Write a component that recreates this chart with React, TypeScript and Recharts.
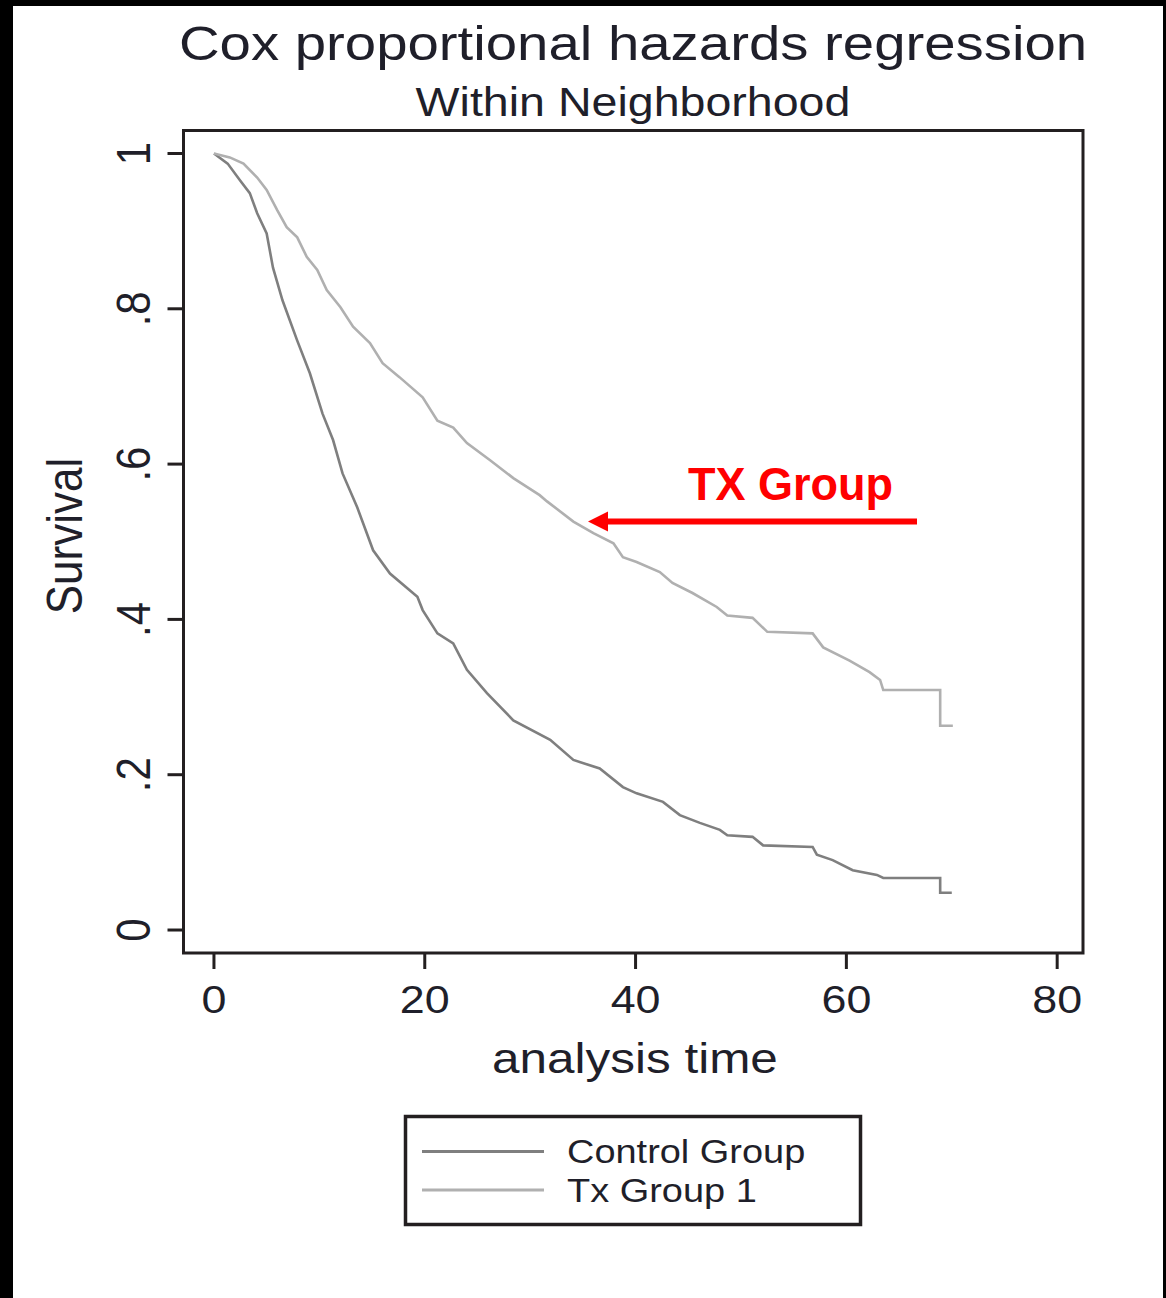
import React from 'react'
import { LineChart, Line, XAxis, YAxis, ReferenceArea } from 'recharts'

// survival curves (analysis time, survival)
const ctrlTime = [0, 1.3, 2.5, 3.4, 4.1, 5.0, 5.6, 6.5, 7.9, 9.1, 10.3, 11.3, 12.2, 13.6, 15.1, 16.7, 19.3, 19.8, 21.2, 22.7, 24.0, 25.9, 28.4, 31.9, 34.1, 36.6, 38.8, 40.1, 42.6, 44.2, 46.1, 48.0, 48.7, 51.1, 52.1, 56.8, 57.2, 58.7, 60.6, 62.9, 63.5, 68.9, 68.9, 70.0]
const ctrlSurv = [1.0, 0.987, 0.965, 0.949, 0.923, 0.897, 0.853, 0.811, 0.759, 0.717, 0.665, 0.631, 0.588, 0.544, 0.489, 0.459, 0.429, 0.412, 0.382, 0.369, 0.335, 0.305, 0.27, 0.245, 0.219, 0.208, 0.184, 0.176, 0.165, 0.148, 0.138, 0.129, 0.122, 0.12, 0.109, 0.107, 0.097, 0.09, 0.077, 0.071, 0.067, 0.067, 0.048, 0.048]

const txTime = [0, 1.5, 2.8, 4.1, 5.0, 6.0, 6.9, 7.9, 8.8, 9.8, 10.7, 12.0, 13.2, 14.8, 16.0, 17.6, 19.8, 21.2, 22.7, 24.0, 26.2, 28.4, 30.9, 31.6, 34.1, 36.0, 37.9, 38.8, 40.1, 42.3, 43.5, 45.4, 47.7, 48.7, 51.1, 52.5, 56.8, 57.8, 60.3, 62.2, 63.2, 63.5, 68.9, 68.9, 70.1]
const txSurv = [1.0, 0.995, 0.987, 0.969, 0.953, 0.927, 0.905, 0.892, 0.867, 0.85, 0.824, 0.802, 0.777, 0.756, 0.73, 0.712, 0.686, 0.656, 0.647, 0.627, 0.605, 0.582, 0.56, 0.552, 0.526, 0.511, 0.498, 0.48, 0.474, 0.461, 0.447, 0.434, 0.416, 0.405, 0.402, 0.384, 0.382, 0.364, 0.347, 0.332, 0.322, 0.309, 0.309, 0.263, 0.263]

const xTicks = [0, 20, 40, 60, 80]
const yTicks = [0, 0.2, 0.4, 0.6, 0.8, 1]
const seriesNames = ['Control Group', 'Tx Group 1']

const ctrlData = ctrlTime.map((t, i) => ({ t, s: ctrlSurv[i] }))
const txData = txTime.map((t, i) => ({ t, s: txSurv[i] }))

const X_DOMAIN = [-2.89, 82.45]
const Y_DOMAIN = [-0.0296, 1.0296]
const FONT = '"Liberation Sans", Arial, Helvetica, sans-serif'
const INK = '#231f20'
const TEXT = '#1f1f2a'
const SX = 1.15 // the source picture is stretched sideways
const CTRL = '#7f7f7f'
const TX = '#b0b0b0'

function SText({ x, y, size, rotate, anchor = 'middle', children }: any) {
  return (
    <text
      transform={`translate(${x},${y}) scale(${SX},1)${rotate ? ' rotate(-90)' : ''}`}
      textAnchor={anchor}
      fontSize={size}
      fontFamily={FONT}
      fill={TEXT}
    >
      {children}
    </text>
  )
}

const fmtY = (v: number) => (v === 0 || v === 1 ? String(v) : String(v).replace(/^0/, ''))

function XTick(props: any) {
  const { x, y, payload } = props
  return <SText x={x} y={y + 42} size={39}>{payload.value}</SText>
}

function YTick(props: any) {
  const { x, y, payload } = props
  return <SText x={x - 16} y={y} size={42} rotate>{fmtY(payload.value)}</SText>
}

export default function App() {
  return (
    <div style={{ position: 'absolute', left: 0, top: 0, width: 1166, height: 1298, background: '#fff' }}>
      <LineChart
        width={1166}
        height={1298}
        margin={{ top: 130.5, right: 83, left: 83.5, bottom: 245 }}
      >
        <XAxis
          dataKey="t"
          type="number"
          domain={X_DOMAIN}
          ticks={xTicks}
          allowDataOverflow
          height={100}
          axisLine={false}
          tickSize={16}
          tickLine={{ stroke: INK, strokeWidth: 3 }}
          tick={<XTick />}
        />
        <YAxis
          type="number"
          domain={Y_DOMAIN}
          ticks={yTicks}
          allowDataOverflow
          width={100}
          axisLine={false}
          tickSize={16}
          tickLine={{ stroke: INK, strokeWidth: 3 }}
          tick={<YTick />}
        />
        <ReferenceArea
          x1={X_DOMAIN[0]}
          x2={X_DOMAIN[1]}
          y1={Y_DOMAIN[0]}
          y2={Y_DOMAIN[1]}
          fill="none"
          stroke={INK}
          strokeWidth={3}
          ifOverflow="visible"
        />
        <Line
          data={ctrlData}
          dataKey="s"
          name={seriesNames[0]}
          type="linear"
          stroke={CTRL}
          strokeWidth={2.6}
          dot={false}
          isAnimationActive={false}
        />
        <Line
          data={txData}
          dataKey="s"
          name={seriesNames[1]}
          type="linear"
          stroke={TX}
          strokeWidth={2.6}
          dot={false}
          isAnimationActive={false}
        />
      </LineChart>

      <svg
        width={1166}
        height={1298}
        style={{ position: 'absolute', left: 0, top: 0, pointerEvents: 'none' }}
      >
        <SText x={633} y={60} size={49}>Cox proportional hazards regression</SText>
        <SText x={633} y={116} size={40.5}>Within Neighborhood</SText>
        <SText x={82} y={536} size={44} rotate>Survival</SText>
        <SText x={635} y={1073} size={43}>analysis time</SText>

        {/* legend */}
        <rect x={405.5} y={1116.5} width={455} height={108} fill="none" stroke={INK} strokeWidth={3.5} />
        <line x1={422} x2={544} y1={1151.5} y2={1151.5} stroke={CTRL} strokeWidth={3} />
        <line x1={422} x2={544} y1={1190} y2={1190} stroke={TX} strokeWidth={3} />
        <SText x={567} y={1163} size={33} anchor="start">{seriesNames[0]}</SText>
        <SText x={567} y={1202} size={33} anchor="start">{seriesNames[1]}</SText>

        {/* red annotation */}
        <text
          x={688}
          y={500}
          fontSize={47}
          fontWeight="bold"
          fontFamily={FONT}
          fill="#ff0000"
          textLength={205}
          lengthAdjust="spacingAndGlyphs"
        >
          TX Group
        </text>
        <line x1={600} x2={917} y1={521.5} y2={521.5} stroke="#ff0000" strokeWidth={6} />
        <polygon points="588,521.5 608,511.5 608,531.5" fill="#ff0000" />
      </svg>

      {/* black frame of the source image */}
      <div style={{ position: 'absolute', left: 0, top: 0, width: 13, height: 1298, background: '#000' }} />
      <div style={{ position: 'absolute', left: 0, top: 0, width: 1166, height: 6, background: '#000' }} />
      <div style={{ position: 'absolute', left: 1163, top: 0, width: 3, height: 1298, background: '#000' }} />
    </div>
  )
}
